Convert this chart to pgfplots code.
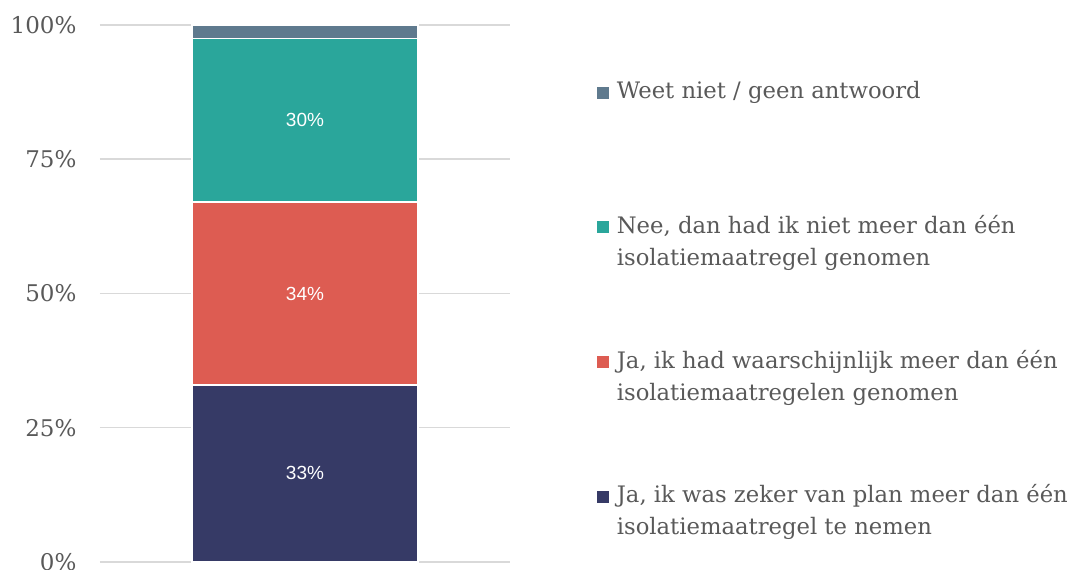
\documentclass[border=0pt]{standalone}
\usepackage{fontspec}
\setmainfont{DejaVu Serif}
\newfontfamily\barfont{Liberation Sans}
\usepackage{pgfplots}
\pgfplotsset{compat=1.18}
\definecolor{cblue}{HTML}{363A66}
\definecolor{cred}{HTML}{DD5C52}
\definecolor{cteal}{HTML}{2AA69B}
\definecolor{cgray}{HTML}{5F7A8E}
\definecolor{gridgray}{HTML}{D9D9D9}
\definecolor{textgray}{HTML}{595959}
\newcommand{\LEone}[1]{\vtop{\hbox{#1}}}
\newcommand{\LEtwo}[2]{\vtop{\hbox{#1}\hbox{#2}}}
\begin{document}
\begin{tikzpicture}
\begin{axis}[
  at={(100pt,8pt)}, anchor=south west,
  width=410pt, height=537pt, scale only axis,
  xmin=-1, xmax=1, ymin=0, ymax=100,
  ybar stacked, bar width=1.1024,
  axis line style={draw=none},
  xtick=\empty, ytick={0,25,50,75,100},
  yticklabels={0\%,25\%,50\%,75\%,100\%},
  major tick length=0pt,
  ymajorgrids, grid style={draw=gridgray, line width=1.5pt},
  yticklabel style={font=\fontsize{23}{28}\selectfont, text=textgray, anchor=east, xshift=-20pt},
  clip=false,
  point meta=explicit symbolic,
  legend image code/.code={\fill[#1,draw=none] (0pt,0pt) rectangle (12pt,12pt); \path (19pt,0pt);},
  reverse legend,
  legend cell align=left,
  legend style={draw=none, fill=none, inner sep=0pt, row sep=115pt, column sep=0pt,
    at={(axis description cs:1.212,0.895)}, anchor=north west,
    font=\fontsize{22.7}{32}\selectfont, text=textgray,
    nodes={inner sep=0pt, anchor=base west}},
]
\addplot[fill=cblue, draw=white, line width=1.5pt,
  nodes near coords={\barfont\fontsize{19}{21}\selectfont\pgfplotspointmeta\%},
  every node near coord/.append style={text=white, anchor=center}]
  coordinates {(0,33) [33]};
\addlegendentry{\LEtwo{Ja, ik was zeker van plan meer dan één}{isolatiemaatregel te nemen}}
\addplot[fill=cred, draw=white, line width=1.5pt,
  nodes near coords={\barfont\fontsize{19}{21}\selectfont\pgfplotspointmeta\%},
  every node near coord/.append style={text=white, anchor=center}]
  coordinates {(0,34) [34]};
\addlegendentry{\LEtwo{Ja, ik had waarschijnlijk meer dan één}{isolatiemaatregelen genomen}}
\addplot[fill=cteal, draw=white, line width=1.5pt,
  nodes near coords={\barfont\fontsize{19}{21}\selectfont\pgfplotspointmeta\%},
  every node near coord/.append style={text=white, anchor=center}]
  coordinates {(0,30.5) [30]};
\addlegendentry{\LEtwo{Nee, dan had ik niet meer dan één}{isolatiemaatregel genomen}}
\addplot[fill=cgray, draw=white, line width=1.5pt]
  coordinates {(0,2.5)};
\addlegendentry{\LEone{Weet niet / geen antwoord}}
\end{axis}
\pgfresetboundingbox
\useasboundingbox (0,0) rectangle (1069pt,570pt);
\end{tikzpicture}
\end{document}
